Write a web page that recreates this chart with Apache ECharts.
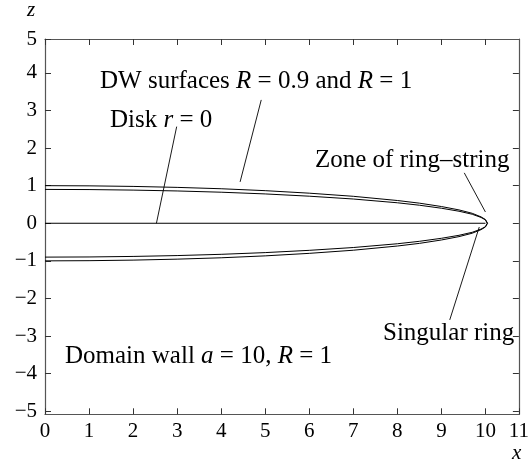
<!DOCTYPE html>
<html>
<head>
<meta charset="utf-8">
<script src="https://cdn.jsdelivr.net/npm/echarts@6/dist/echarts.min.js"></script>
<style>
html,body{margin:0;padding:0;background:#fff;}
#c{width:532px;height:469px;}
</style>
</head>
<body>
<div id="c"></div>
<script>
// ---- data ----
const xTicks = [0,1,2,3,4,5,6,7,8,9,10];
const xEnd = 10.76;          // right edge of frame, labelled "11"
const xEndLabel = '11';
const zTicks = [-5,-4,-3,-2,-1,0,1,2,3,4];
const zEnd = 4.9;            // top edge of frame, labelled "5"
const zEndLabel = '5';
const zStart = -5.08;

// DW surface R = 1 (outer), upper and lower halves
const outerX     = [0, 1, 2, 3, 4, 5, 6, 7, 8, 8.5, 9, 9.4, 9.7, 9.9, 10, 10.05];
const outerUpper = [1.0, 0.995, 0.98, 0.954, 0.918, 0.867, 0.80, 0.717, 0.605, 0.535, 0.445, 0.355, 0.265, 0.17, 0.10, 0];
const outerLower = [-1.0, -0.995, -0.98, -0.954, -0.918, -0.867, -0.80, -0.717, -0.605, -0.535, -0.445, -0.355, -0.265, -0.17, -0.10, 0];
// DW surface R = 0.9 (inner)
const innerX     = [0, 1, 2, 3, 4, 5, 6, 7, 8, 8.5, 9, 9.4, 9.7, 9.9, 10, 10.04];
const innerUpper = [0.9, 0.896, 0.882, 0.859, 0.826, 0.78, 0.72, 0.645, 0.545, 0.48, 0.40, 0.32, 0.24, 0.155, 0.09, 0];
const innerLower = [-0.9, -0.896, -0.882, -0.859, -0.826, -0.78, -0.72, -0.645, -0.545, -0.48, -0.40, -0.32, -0.24, -0.155, -0.09, 0];
// Disk r = 0
const diskX = [0, 10];
const diskZ = [0, 0];

// annotation pointer lines (data coords: [x, z] start -> end)
const pointerDW       = [[4.91, 3.28], [4.43, 1.10]];
const pointerDisk     = [[2.99, 2.57], [2.53, 0.0]];
const pointerZone     = [[9.52, 1.34], [10.0, 0.30]];
const pointerSingular = [[9.19, -2.57], [9.86, -0.10]];

// ---- build ----
function pairs(xs, zs){ return xs.map((x,i)=>[x, zs[i]]); }
const FONT = '"Liberation Serif","DejaVu Serif",serif';
const FS = 21;      // tick labels
const AFS = 25;     // annotations
function lineSeries(data, w){
  return {type:'line', data:data, showSymbol:false, symbol:'none', smooth:false,
    lineStyle:{color:'#000', width:w||1}, silent:true, animation:false, z:3};
}
const minus = v => String(v).replace('-', '\u2212');

const chart = echarts.init(document.getElementById('c'), null, {renderer:'canvas'});
const tickStyle = {show:true, inside:true, length:6, lineStyle:{color:'#333', width:1}};
const axLine = {show:true, onZero:false, lineStyle:{color:'#555', width:1.2}};
const labelStyle = {color:'#000', fontFamily:FONT, fontSize:FS};

const rich = {
  t:{fontFamily:FONT, fontSize:AFS, color:'#000'},
  i:{fontFamily:FONT, fontSize:AFS, fontStyle:'italic', color:'#000'}
};

chart.setOption({
  animation:false,
  backgroundColor:'#fff',
  grid:{left:45, right:11.3, top:39, bottom:54.7, containLabel:false},
  xAxis:[{
    type:'value', min:0, max:xEnd, position:'bottom',
    axisLine:axLine, splitLine:{show:false},
    axisTick:Object.assign({customValues:xTicks.concat([xEnd])}, tickStyle),
    axisLabel:Object.assign({margin:7, customValues:xTicks.concat([xEnd]),
      formatter:v => (v === xEnd ? xEndLabel : minus(v))}, labelStyle)
  },{
    type:'value', min:0, max:xEnd, position:'top',
    axisLine:axLine, splitLine:{show:false},
    axisTick:Object.assign({customValues:xTicks}, tickStyle),
    axisLabel:{show:false}
  }],
  yAxis:[{
    type:'value', min:zStart, max:zEnd, position:'left',
    axisLine:axLine, splitLine:{show:false},
    axisTick:Object.assign({customValues:zTicks.concat([zEnd])}, tickStyle),
    axisLabel:Object.assign({margin:8, customValues:zTicks.concat([zEnd]),
      formatter:v => (v === zEnd ? zEndLabel : minus(v))}, labelStyle)
  },{
    type:'value', min:zStart, max:zEnd, position:'right',
    axisLine:axLine, splitLine:{show:false},
    axisTick:Object.assign({customValues:zTicks}, tickStyle),
    axisLabel:{show:false}
  }],
  series:[
    lineSeries(pairs(outerX, outerUpper)),
    lineSeries(pairs(outerX, outerLower)),
    lineSeries(pairs(innerX, innerUpper)),
    lineSeries(pairs(innerX, innerLower)),
    lineSeries(pairs(diskX, diskZ)),
    lineSeries(pointerDW, 0.9),
    lineSeries(pointerDisk, 0.9),
    lineSeries(pointerZone, 0.9),
    lineSeries(pointerSingular, 0.9)
  ],
  graphic:[
    {type:'text', left:27, top:0, style:{text:'z', font:'italic 21px '+FONT, fill:'#000'}},
    {type:'text', left:512, top:443, style:{text:'x', font:'italic 21px '+FONT, fill:'#000'}},
    {type:'text', left:100, top:69, style:{text:'{t|DW surfaces }{i|R}{t| = 0.9 and }{i|R}{t| = 1}', rich:rich}},
    {type:'text', left:110, top:108, style:{text:'{t|Disk }{i|r}{t| = 0}', rich:rich}},
    {type:'text', left:315, top:148, style:{text:'{t|Zone of ring\u2013string}', rich:rich}},
    {type:'text', left:383, top:321, style:{text:'{t|Singular ring}', rich:rich}},
    {type:'text', left:65, top:344, style:{text:'{t|Domain wall }{i|a}{t| = 10, }{i|R}{t| = 1}', rich:rich}}
  ]
});
</script>
</body>
</html>
